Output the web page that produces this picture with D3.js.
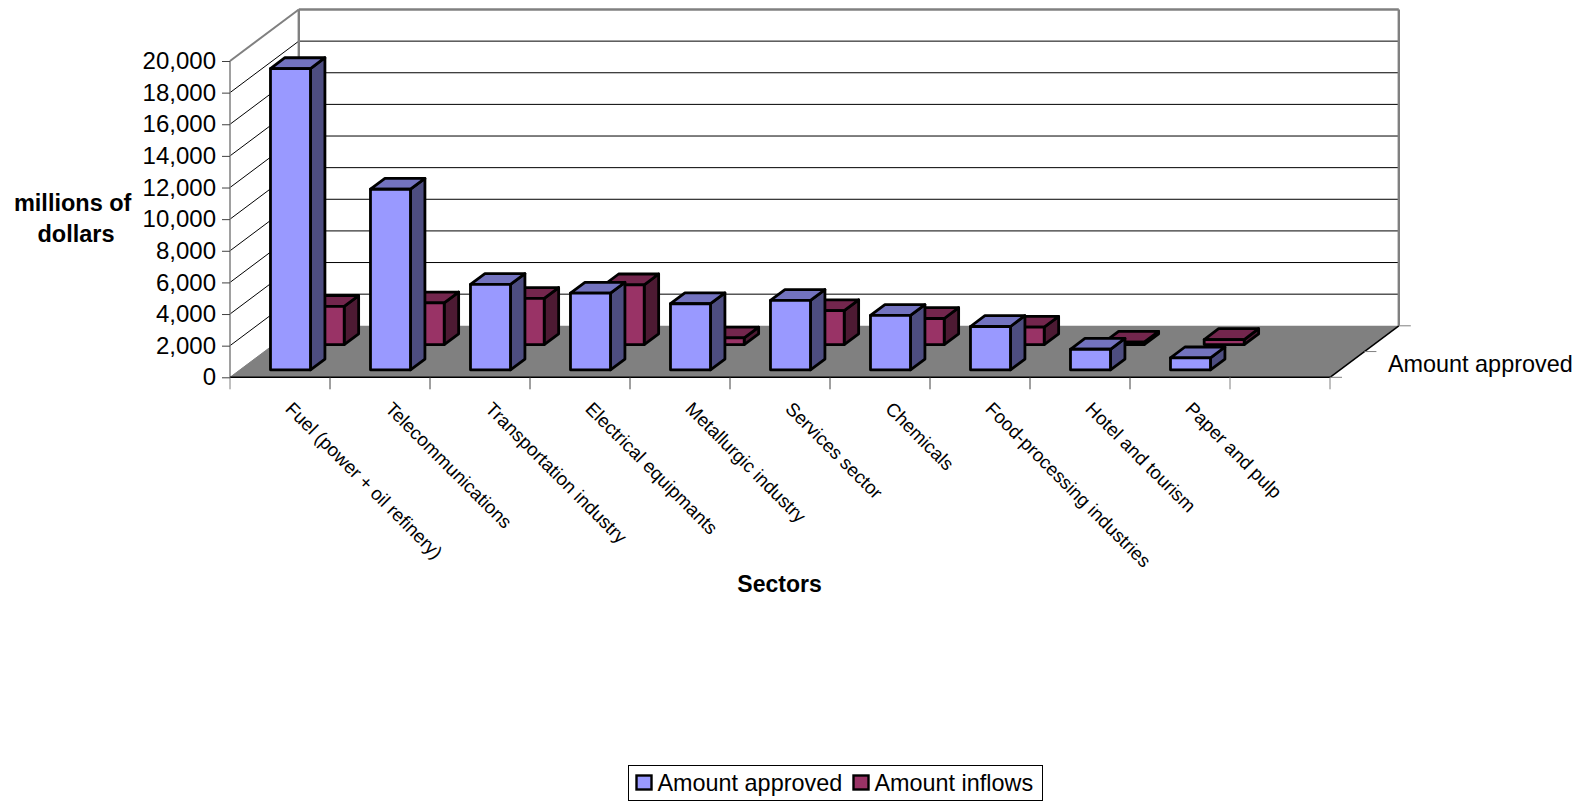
<!DOCTYPE html>
<html><head><meta charset="utf-8">
<script src="https://cdn.jsdelivr.net/npm/d3@7"></script>
<style>html,body{margin:0;padding:0;background:#fff}svg{display:block}text{font-family:"Liberation Sans",Arial,sans-serif;fill:#000}</style>
</head><body><svg id="c" width="1583" height="801"></svg>
<script>
const categories=["Fuel (power + oil refinery)","Telecommunications","Transportation industry","Electrical equipmants","Metallurgic industry","Services sector","Chemicals","Food-processing industries","Hotel and tourism","Paper and pulp",""];
const amountApproved=[19050,11420,5400,4850,4180,4390,3440,2740,1300,760];
const amountInflows=[2420,2640,2920,3780,420,2150,1650,1100,150,320];
const yTicks=d3.range(0,20001,2000);
const seriesNames=["Amount approved","Amount inflows"];
const seriesValues=[amountApproved,amountInflows];
const palette=[{front:"#9999FF",top:"#7373BF",side:"#4D4D80"},{front:"#993366",top:"#73264D",side:"#4D1A33"}];

const svg=d3.select("#c");
const x=d3.scaleBand().domain(categories.map((d,i)=>i)).range([230,1330]);
const y=d3.scaleLinear().domain([0,20000]).range([377.3,61]);
const DX=68.8,DY=51.5;
const depth=d3.scalePoint().domain([0,1]).range([0.145,0.635]);
const barDepth=0.21,barW=0.4*x.bandwidth(),barOff=0.3*x.bandwidth()+0.5;
const P=(px,py,d)=>[px+d*DX,py-d*DY];
const L=(g,a,b,c,w)=>g.append("line").attr("x1",a[0]).attr("y1",a[1]).attr("x2",b[0]).attr("y2",b[1]).attr("stroke",c).attr("stroke-width",w);
const x0=x.range()[0],x1=x.range()[1],yT=y(20000),yB=y(0);
const g=svg.append("g");

// walls & floor
g.append("polygon").attr("points",[P(x0,yB,0),P(x0,yB,1),P(x1,yB,1),P(x1,yB,0)].join(" ")).attr("fill","#808080");
yTicks.slice(1).forEach(t=>{
  const c=t===20000?"#808080":"#000",w=t===20000?2:1;
  if(t<20000)L(g,P(x0,y(t),1),P(x1,y(t),1),c,w);
  L(g,[x0,y(t)],P(x0,y(t),1),c,w);
});
L(g,[x0,yB],P(x0,yB,1),"#808080",1);
L(g,P(x0,yT,1),P(x1,yT,1),"#808080",2.4);
L(g,P(x0,yT,1),P(x0,yB,1),"#808080",2.4);
L(g,P(x1,yT,1),P(x1,yB,1),"#808080",2.4);
L(g,[x0,yT],[x0,yB],"#808080",1.5);
L(g,[x1,yB],P(x1,yB,1),"#000",1.5);
L(g,[x0,yB],[x1,yB],"#000",1.5);

// y axis
const ax=d3.axisLeft(y).tickValues(yTicks).tickSize(8).tickPadding(6).tickFormat(d3.format(","));
const axG=svg.append("g").attr("transform",`translate(${x0},0)`).call(ax);
axG.select(".domain").remove();
axG.selectAll("line").attr("stroke","#404040");
axG.selectAll("text").style("font-size","24px").attr("fill","#000");

// x ticks and labels
categories.forEach((c,i)=>{
  const px=x(i);
  L(g,[px,yB],[px,yB+12],i===0||i===categories.length-1?"#808080":"#404040",1);
});
L(g,[x1,yB],[x1,yB+12],"#808080",1);
svg.append("g").selectAll("text").data(categories.filter(c=>c)).join("text")
  .attr("transform",(d,i)=>`translate(${x(i)+x.bandwidth()/2+9},${yB+28}) rotate(45)`)
  .attr("dy","0.35em").style("font-size","18.7px").text(d=>d);

// depth ticks
[0,0.5,1].forEach(d=>{const p=P(x1,yB,d);L(g,p,[p[0]+12,p[1]],"#808080",1);});
svg.append("text").attr("x",1388).attr("y",372).style("font-size","23.4px").text(seriesNames[0]);

// bars, back series first
[1,0].forEach(s=>{
  const col=palette[s],d0=depth(s),d1=d0+barDepth;
  const gs=svg.append("g");
  seriesValues[s].forEach((v,i)=>{
    const l=x(i)+barOff,r=l+barW,t=y(v),b=y(0);
    const A=P(l,t,d0),B=P(r,t,d0),C=P(r,b,d0),D=P(l,b,d0),E=P(r,t,d1),F=P(r,b,d1),G=P(l,t,d1);
    const poly=(pts,f)=>gs.append("polygon").attr("points",pts.join(" ")).attr("fill",f).attr("stroke","#000").attr("stroke-width",2.8).attr("stroke-linejoin","round");
    poly([B,E,F,C],col.side);
    poly([A,G,E,B],col.top);
    poly([A,B,C,D],col.front);
  });
});

// titles
const bold=(t,px,py,fs)=>svg.append("text").attr("x",px).attr("y",py).attr("text-anchor","middle").style("font-size",fs+"px").style("font-weight","bold").text(t);
bold("millions of",72.7,211,23.5);bold("dollars",76,241.5,23.5);bold("Sectors",779.5,591.5,23);

// legend
svg.append("rect").attr("x",628.5).attr("y",765.5).attr("width",414).attr("height",35).attr("fill","#fff").attr("stroke","#000");
[[636.5,657.5],[853.5,874.5]].forEach((p,i)=>{
  svg.append("rect").attr("x",p[0]).attr("y",775.5).attr("width",15).attr("height",14).attr("fill",palette[i].front).attr("stroke","#000").attr("stroke-width",2.4);
  svg.append("text").attr("x",p[1]).attr("y",791).style("font-size","23.4px").text(seriesNames[i]);
});
</script></body></html>
